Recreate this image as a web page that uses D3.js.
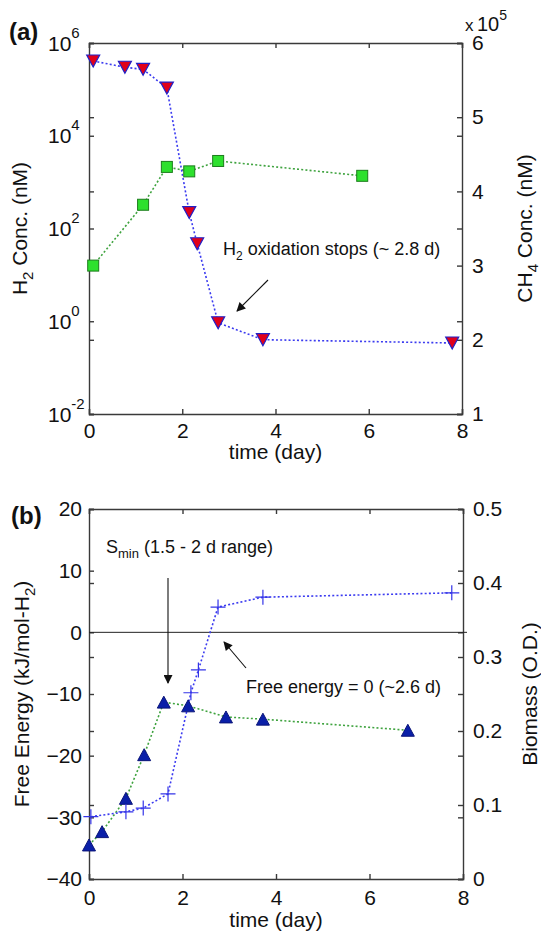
<!DOCTYPE html>
<html>
<head>
<meta charset="utf-8">
<script src="https://cdn.jsdelivr.net/npm/d3@7"></script>
<style>
  html, body { margin: 0; padding: 0; background: #fff; }
  svg { display: block; font-family: "Liberation Sans", Arial, Helvetica, sans-serif; }
  .axis path, .axis line { stroke: #3a3a3a; stroke-width: 1.4; }
  .axis text { font-size: 21px; fill: #111; font-family: "Liberation Sans", Arial, sans-serif; }
</style>
</head>
<body>
<svg id="chart" width="541" height="934"></svg>
<script>
// panel (a): H2 (left, log) and CH4 (right, x 10^5)
const h2Days = [0.09, 0.77, 1.16, 1.67, 2.15, 2.32, 2.77, 3.73, 7.79];
const h2Conc = [4.1e5, 3.0e5, 2.7e5, 1.07e5, 220, 47, 0.93, 0.40, 0.34];
const ch4Days = [0.09, 1.16, 1.67, 2.15, 2.77, 5.86];
const ch4Conc = [3.0, 3.82, 4.33, 4.27, 4.41, 4.21];

// panel (b): free energy (left) and biomass (right)
const feDays = [0.04, 0.79, 1.16, 1.69, 2.18, 2.34, 2.76, 3.72, 7.76];
const freeEnergy = [-29.9, -29.1, -28.5, -26.2, -9.8, -6.1, 4.1, 5.7, 6.4];
const bioDays = [0.0, 0.28, 0.79, 1.18, 1.6, 2.12, 2.93, 3.72, 6.82];
const biomass = [0.046, 0.064, 0.109, 0.168, 0.239, 0.234, 0.219, 0.216, 0.201];

const xTicks = [0, 2, 4, 6, 8];
const h2Ticks = [1e-2, 1e0, 1e2, 1e4, 1e6];
const ch4Ticks = [1, 2, 3, 4, 5, 6];
const feTicks = [-40, -30, -20, -10, 0, 10, 20];
const bioTicks = [0, 0.1, 0.2, 0.3, 0.4, 0.5];

const svg = d3.select("#chart");

const defs = svg.append("defs");
defs.append("marker")
    .attr("id", "arrow")
    .attr("viewBox", "0 0 10 10")
    .attr("refX", 9).attr("refY", 5)
    .attr("markerWidth", 11).attr("markerHeight", 9)
    .attr("markerUnits", "userSpaceOnUse")
    .attr("orient", "auto")
    .append("path")
    .attr("d", "M0,0 L10,5 L0,10 Z")
    .attr("fill", "#111");

const TICK = 5;

// draws the box, inward ticks on all four sides
function drawFrame(g, x, yL, yR, yLTicks, yRTicks, w, h, xPad) {
    // bottom
    g.append("g").attr("class", "axis")
        .attr("transform", `translate(0,${h})`)
        .call(d3.axisBottom(x).tickValues(xTicks).tickSize(-TICK).tickPadding(xPad));
    // top mirror
    g.append("g").attr("class", "axis")
        .call(d3.axisTop(x).tickValues(xTicks).tickSize(-TICK).tickFormat(""));
    // left axis ticks also on right side, right axis ticks also on left side
    g.append("g").attr("class", "axis")
        .call(d3.axisLeft(yR).tickValues(yRTicks).tickSize(-TICK).tickFormat(""))
        .select(".domain").remove();
    g.append("g").attr("class", "axis")
        .attr("transform", `translate(${w},0)`)
        .call(d3.axisRight(yL).tickValues(yLTicks).tickSize(-TICK).tickFormat(""))
        .select(".domain").remove();
}

function dotted(g, xs, ys, x, y, color) {
    const line = d3.line().x(d => x(d[0])).y(d => y(d[1]));
    g.append("path")
        .datum(xs.map((d, i) => [d, ys[i]]))
        .attr("d", line)
        .attr("fill", "none")
        .attr("stroke", color)
        .attr("stroke-width", 1.6)
        .attr("stroke-dasharray", "2,2.2");
}

function triangle(size, down) {
    const hw = size / 2, hh = size * 0.46;
    return down
        ? `M${-hw},${-hh} L${hw},${-hh} L0,${hh} Z`
        : `M${-hw},${hh} L${hw},${hh} L0,${-hh} Z`;
}

/* ---------------- panel (a) ---------------- */
{
    const left = 89, top = 43, w = 462 - 89, h = 414 - 43;
    const x = d3.scaleLinear().domain([0, 8]).range([0, w]);
    const yL = d3.scaleLog().domain([1e-2, 1e6]).range([h, 0]);
    const yR = d3.scaleLinear().domain([1, 6]).range([h, 0]);
    const g = svg.append("g").attr("transform", `translate(${left},${top})`);

    drawFrame(g, x, yL, yR, h2Ticks, ch4Ticks, w, h, 9);

    // left log axis with 10^n labels
    const la = g.append("g").attr("class", "axis")
        .call(d3.axisLeft(yL).tickValues(h2Ticks).tickSize(-TICK).tickFormat(""));
    la.selectAll(".tick").each(function (d) {
        const t = d3.select(this).append("text")
            .attr("x", -41).attr("y", 7)
            .attr("text-anchor", "start").attr("fill", "#111");
        t.append("tspan").text("10");
        t.append("tspan").attr("dy", -13).attr("font-size", 15).text(Math.round(Math.log10(d)));
    });

    // right linear axis
    g.append("g").attr("class", "axis")
        .attr("transform", `translate(${w},0)`)
        .call(d3.axisRight(yR).tickValues(ch4Ticks).tickSize(-TICK).tickPadding(10)
            .tickFormat(d3.format("d")));

    // series
    dotted(g, ch4Days, ch4Conc, x, yR, "#3fa33f");
    dotted(g, h2Days, h2Conc, x, yL, "#3b3bf0");

    g.selectAll(".sq").data(ch4Days).enter().append("rect")
        .attr("x", (d, i) => x(d) - 5.5)
        .attr("y", (d, i) => yR(ch4Conc[i]) - 5.5)
        .attr("width", 11).attr("height", 11)
        .attr("fill", "#2ee02e").attr("stroke", "#1d7d1d").attr("stroke-width", 1);

    g.selectAll(".tri").data(h2Days).enter().append("path")
        .attr("transform", (d, i) => `translate(${x(d)},${yL(h2Conc[i])})`)
        .attr("d", triangle(13, true))
        .attr("fill", "#e0001a").attr("stroke", "#2020c8").attr("stroke-width", 1.2);

    // annotation
    const ann = svg.append("text")
        .attr("x", 223).attr("y", 255)
        .attr("font-size", 18).attr("fill", "#111");
    ann.append("tspan").text("H");
    ann.append("tspan").attr("dy", 5).attr("font-size", 12).text("2");
    ann.append("tspan").attr("dy", -5).text(" oxidation stops (~ 2.8 d)");
    svg.append("line")
        .attr("x1", 268).attr("y1", 280).attr("x2", 237).attr("y2", 311)
        .attr("stroke", "#111").attr("stroke-width", 1.1)
        .attr("marker-end", "url(#arrow)");

    // multiplier
    svg.append("text").attr("x", 465).attr("y", 31).attr("font-size", 17).attr("fill", "#111").text("x");
    const mult = svg.append("text").attr("x", 477).attr("y", 31).attr("font-size", 20).attr("fill", "#111");
    mult.append("tspan").text("10");
    mult.append("tspan").attr("dy", -11).attr("font-size", 14).text("5");

    // axis labels
    const yl = svg.append("text")
        .attr("transform", `translate(27,${top + h / 2}) rotate(-90)`)
        .attr("text-anchor", "middle").attr("font-size", 21).attr("fill", "#111");
    yl.append("tspan").text("H");
    yl.append("tspan").attr("dy", 6).attr("font-size", 15).text("2");
    yl.append("tspan").attr("dy", -6).text(" Conc. (nM)");

    const yr = svg.append("text")
        .attr("transform", `translate(532,${top + h / 2}) rotate(-90)`)
        .attr("text-anchor", "middle").attr("font-size", 21).attr("fill", "#111");
    yr.append("tspan").text("CH");
    yr.append("tspan").attr("dy", 6).attr("font-size", 15).text("4");
    yr.append("tspan").attr("dy", -6).text(" Conc. (nM)");

    svg.append("text").attr("x", left + w / 2).attr("y", 459)
        .attr("text-anchor", "middle").attr("font-size", 21).attr("fill", "#111")
        .text("time (day)");

    svg.append("text").attr("x", 9).attr("y", 40)
        .attr("font-size", 24).attr("font-weight", "bold").attr("fill", "#111")
        .text("(a)");
}

/* ---------------- panel (b) ---------------- */
{
    const left = 89, top = 509, w = 463 - 89, h = 879 - 509;
    const x = d3.scaleLinear().domain([0, 8]).range([0, w]);
    const yL = d3.scaleLinear().domain([-40, 20]).range([h, 0]);
    const yR = d3.scaleLinear().domain([0, 0.5]).range([h, 0]);
    const g = svg.append("g").attr("transform", `translate(${left},${top})`);

    drawFrame(g, x, yL, yR, feTicks, bioTicks, w, h, 11);

    g.append("g").attr("class", "axis")
        .call(d3.axisLeft(yL).tickValues(feTicks).tickSize(-TICK).tickPadding(7));
    g.append("g").attr("class", "axis")
        .attr("transform", `translate(${w},0)`)
        .call(d3.axisRight(yR).tickValues(bioTicks).tickSize(-TICK).tickPadding(10)
            .tickFormat(d => d === 0 ? "0" : d3.format(".1f")(d)));

    // zero line
    g.append("line")
        .attr("x1", 0).attr("x2", w + 4)
        .attr("y1", yL(0)).attr("y2", yL(0))
        .attr("stroke", "#222").attr("stroke-width", 1);

    dotted(g, bioDays, biomass, x, yR, "#3fa33f");
    dotted(g, feDays, freeEnergy, x, yL, "#3b3bf0");

    g.selectAll(".tri").data(bioDays).enter().append("path")
        .attr("transform", (d, i) => `translate(${x(d)},${yR(biomass[i])})`)
        .attr("d", triangle(13, false))
        .attr("fill", "#0a1fa8").attr("stroke", "#0a1478").attr("stroke-width", 1);

    g.selectAll(".plus").data(feDays).enter().append("path")
        .attr("transform", (d, i) => `translate(${x(d)},${yL(freeEnergy[i])})`)
        .attr("d", "M-7.5,0 L7.5,0 M0,-7.5 L0,7.5")
        .attr("stroke", "#3434e8").attr("stroke-width", 1.2).attr("fill", "none");

    // annotations
    const s = svg.append("text").attr("x", 106).attr("y", 553)
        .attr("font-size", 18).attr("fill", "#111");
    s.append("tspan").text("S");
    s.append("tspan").attr("dy", 5).attr("font-size", 13).text("min");
    s.append("tspan").attr("dy", -5).text(" (1.5 - 2 d range)");
    svg.append("line")
        .attr("x1", 168).attr("y1", 578).attr("x2", 168).attr("y2", 683)
        .attr("stroke", "#111").attr("stroke-width", 1.1)
        .attr("marker-end", "url(#arrow)");

    svg.append("text").attr("x", 246).attr("y", 693)
        .attr("font-size", 18).attr("fill", "#111")
        .text("Free energy = 0 (~2.6 d)");
    svg.append("line")
        .attr("x1", 246).attr("y1", 668).attr("x2", 224).attr("y2", 642)
        .attr("stroke", "#111").attr("stroke-width", 1.1)
        .attr("marker-end", "url(#arrow)");

    // axis labels
    const yl = svg.append("text")
        .attr("transform", `translate(29,${top + h / 2}) rotate(-90)`)
        .attr("text-anchor", "middle").attr("font-size", 21).attr("fill", "#111");
    yl.append("tspan").text("Free Energy (kJ/mol-H");
    yl.append("tspan").attr("dy", 6).attr("font-size", 15).text("2");
    yl.append("tspan").attr("dy", -6).text(")");

    svg.append("text")
        .attr("transform", `translate(537,${top + h / 2}) rotate(-90)`)
        .attr("text-anchor", "middle").attr("font-size", 21).attr("fill", "#111")
        .text("Biomass (O.D.)");

    svg.append("text").attr("x", left + w / 2).attr("y", 927)
        .attr("text-anchor", "middle").attr("font-size", 21).attr("fill", "#111")
        .text("time (day)");

    svg.append("text").attr("x", 11).attr("y", 524)
        .attr("font-size", 24).attr("font-weight", "bold").attr("fill", "#111")
        .text("(b)");
}
</script>
</body>
</html>
